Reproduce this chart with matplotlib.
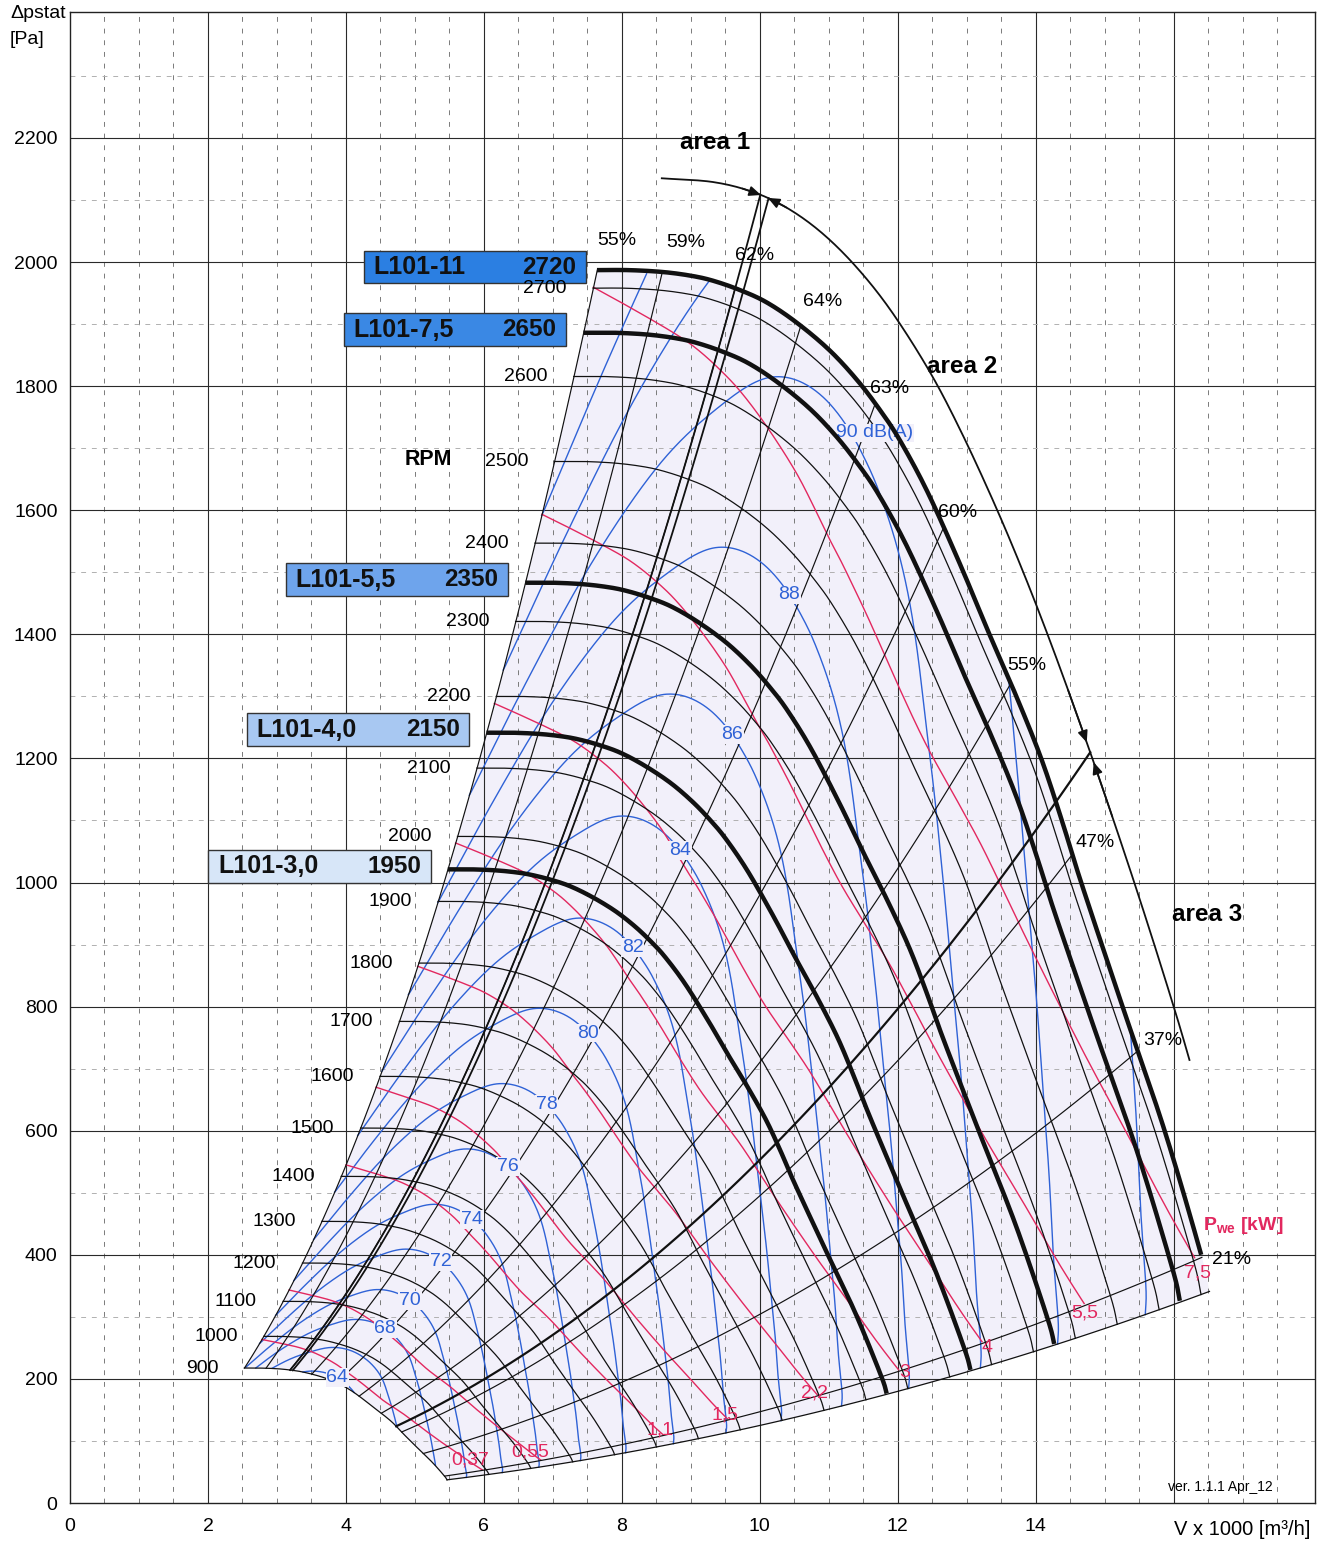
import numpy as np
import matplotlib
matplotlib.use("Agg")
import matplotlib.pyplot as plt
from matplotlib.patches import Rectangle, Polygon

plt.rcParams["font.family"] = ["Liberation Sans", "DejaVu Sans"]
plt.rcParams["mathtext.fontset"] = "custom"
plt.rcParams["mathtext.rm"] = "Liberation Sans"
plt.rcParams["mathtext.bf"] = "Liberation Sans:bold"

# ---------------------------------------------------------------- data
# fan characteristic at the reference speed (flow x1000 m3/h, static pressure Pa)
base_rpm = 2720
base_flow = [7.64, 8.10, 8.59, 9.00, 9.32, 9.71, 10.10, 10.54, 11.01, 11.41, 11.74,
             12.03, 12.43, 12.90, 13.33, 13.72, 14.08, 14.38, 14.66, 15.26, 15.87, 16.40, 16.52]
base_pa = [1987, 1987, 1984, 1978, 1970, 1955, 1935, 1902, 1858, 1810, 1762,
           1713, 1630, 1514, 1400, 1300, 1200, 1100, 1000, 800, 600, 400, 341]

# speed lines
rpm_values = [900, 1000, 1100, 1200, 1300, 1400, 1500, 1600, 1700, 1800, 1900,
              2000, 2100, 2200, 2300, 2400, 2500, 2600, 2700]

# motor limits
motor_names = ["L101-3,0", "L101-4,0", "L101-5,5", "L101-7,5", "L101-11"]
motor_rpm = [1950, 2150, 2350, 2650, 2720]
motor_box_colors = ["#d7e6f8", "#a8c8f2", "#6ea4ec", "#3a88e4", "#2b7fe2"]

# efficiency lines (system parabolas p = k * V^2)
eff_labels = ["55%", "59%", "62%", "64%", "63%", "60%", "55%", "47%", "37%", "21%"]
eff_k = [34.0, 26.9, 21.05, 16.9, 13.0, 9.8, 7.1, 4.95, 3.04, 1.47]

# operating area limits
area1_k = [20.5, 21.05]
area23_k = 5.53
outer_flow = [8.58, 9.32, 9.90, 10.40, 10.90, 11.40, 11.90, 12.45, 12.90, 13.40,
              13.85, 14.30, 14.80, 15.26, 15.66, 16.04, 16.23]
outer_pa = [2135, 2129, 2113, 2087, 2047, 1992, 1922, 1826, 1731, 1611,
            1492, 1362, 1207, 1057, 921, 786, 714]

# sound power: speed ratio giving 88 dB(A) along each system parabola
noise_ratio_k = [1.25, 2.0, 3.0, 4.5, 6.0, 8.0, 10.0, 12.5, 15.0, 17.5, 20.0, 23.0, 26.5, 30.0, 34.0]
noise_speed_88 = [0.736, 0.752, 0.775, 0.805, 0.829, 0.862, 0.887, 0.901, 0.905, 0.898,
                  0.877, 0.848, 0.805, 0.755, 0.698]
noise_levels = [64, 66, 68, 70, 72, 74, 76, 78, 80, 82, 84, 86, 88, 90, 92, 94]
noise_peak_pa = [212, 250, 295, 343, 408, 480, 569, 674, 795, 940, 1104, 1300, 1536,
                 1810, 2130, 2525]
noise_labels = ["64", "", "68", "70", "72", "74", "76", "78", "80", "82", "84", "86",
                "88", "90 dB(A)", "", ""]

# shaft power at reference speed along each system parabola (kW)
power_ratio_k = [1.47, 2.0, 3.0, 4.5, 6.0, 8.0, 10.0, 12.5, 15.0, 18.0, 22.0, 27.0, 34.0]
power_kw_ref = [7.62, 7.95, 8.35, 8.75, 9.05, 9.25, 9.25, 9.10, 8.80, 8.50, 8.20, 7.95, 7.66]
power_levels = [0.37, 0.55, 1.1, 1.5, 2.2, 3, 4, 5.5, 7.5]
power_labels = ["0,37", "0,55", "1,1", "1,5", "2,2", "3", "4", "5,5", "7,5"]

# ---------------------------------------------------------------- helpers
def catmull(x, y, n=16):
    P = np.column_stack([np.asarray(x, float), np.asarray(y, float)])
    P = np.vstack([2 * P[0] - P[1], P, 2 * P[-1] - P[-2]])
    out = []
    t = np.linspace(0, 1, n, endpoint=False)[:, None]
    for i in range(1, len(P) - 2):
        p0, p1, p2, p3 = P[i - 1], P[i], P[i + 1], P[i + 2]
        out.append(0.5 * (2 * p1 + (-p0 + p2) * t + (2 * p0 - 5 * p1 + 4 * p2 - p3) * t ** 2
                          + (-p0 + 3 * p1 - 3 * p2 + p3) * t ** 3))
    out.append(P[-2][None, :])
    A = np.vstack(out)
    return A[:, 0], A[:, 1]


def table_lookup(xs, ys, x):
    lx, ly = catmull(np.log(xs), ys, 24)
    return np.interp(np.log(x), lx, ly)


BV, BP = catmull(base_flow, base_pa, 24)
BR = BP / BV ** 2
s_min = rpm_values[0] / base_rpm


def flow_at_ratio(k):
    return np.interp(k, BR[::-1], BV[::-1])


AV, AP = catmull(outer_flow, outer_pa, 16)


def outer_crossing(k):
    f = k * AV ** 2 - AP
    v = np.interp(0.0, f, AV)
    return v, k * v ** 2


# ---------------------------------------------------------------- figure
W, H = 1326, 1542
fig = plt.figure(figsize=(W / 100, H / 100), dpi=100)
ax = fig.add_axes([70 / W, 39 / H, 1245 / W, 1491 / H])
ax.set_xlim(0, 18.05)
ax.set_ylim(0, 2403)

for sp in ax.spines.values():
    sp.set_linewidth(1.0)
    sp.set_color("#222222")

ax.set_xticks(range(0, 15, 2))
ax.set_yticks(range(0, 2201, 200))
ax.tick_params(axis="x", length=0, pad=11, labelsize=14)
ax.tick_params(axis="y", length=0, pad=9, labelsize=14)

# grid
for i in range(1, 36):
    x = i * 0.5
    if i % 4 == 0:
        ax.axvline(x, color="#2a2a2a", lw=0.8, zorder=1)
    else:
        ax.axvline(x, color="#7a7a7a", lw=0.7, ls=(0, (5, 7)), zorder=1)
for y in range(100, 2400, 100):
    if y % 200 == 0:
        ax.axhline(y, color="#2a2a2a", lw=0.8, zorder=1)
    else:
        ax.axhline(y, color="#b0b0b0", lw=0.7, ls=(0, (5, 6)), zorder=1)

# operating field background
sl = np.linspace(s_min, 1, 60)
left_v, left_p = sl * BV[0], sl ** 2 * BP[0]
right_v, right_p = sl[::-1] * BV[-1], sl[::-1] ** 2 * BP[-1]
poly = np.vstack([np.column_stack([left_v, left_p]),
                  np.column_stack([BV, BP]),
                  np.column_stack([right_v, right_p]),
                  np.column_stack([s_min * BV[::-1], s_min ** 2 * BP[::-1]])])
ax.add_patch(Polygon(poly, closed=True, facecolor="#f2f0fa", edgecolor="none", zorder=0.6))

# sound power lines
blue = "#2f62d6"
ref_peak = noise_peak_pa[noise_levels.index(88)]
s88_field = table_lookup(noise_ratio_k, noise_speed_88, BR)
for lev, peak, lab in zip(noise_levels, noise_peak_pa, noise_labels):
    f = np.sqrt(peak / ref_peak)
    s = f * s88_field
    ok = (s >= s_min) & (s <= 1.0)
    ax.plot(np.where(ok, s * BV, np.nan), np.where(ok, s ** 2 * BP, np.nan),
            color=blue, lw=1.0, zorder=2.5)
    if lab:
        kl = 13.45
        sv = f * table_lookup(noise_ratio_k, noise_speed_88, kl)
        v = sv * flow_at_ratio(kl)
        p = kl * v ** 2
        if lev == 90:
            ax.text(v - 0.22, p, lab, color=blue, fontsize=14, ha="left", va="center",
                    zorder=3.2, bbox=dict(facecolor="#f2f0fa", edgecolor="none", pad=0.5))
        else:
            ax.text(v, p, lab, color=blue, fontsize=14, ha="center", va="center",
                    zorder=3.2, bbox=dict(facecolor="#f2f0fa", edgecolor="none", pad=0.5))

# shaft power lines
red = "#e2285f"
mask_p = BR >= 1.47
p0_field = table_lookup(power_ratio_k, power_kw_ref, BR[mask_p])
power_label_pos = [(5.80, 69), (6.67, 82), (8.55, 118), (9.49, 142), (10.80, 177),
                   (12.10, 211), (13.30, 250), (14.71, 306), (16.35, 371)]
for P, lab, (lx, ly) in zip(power_levels, power_labels, power_label_pos):
    s = (P / p0_field) ** (1.0 / 3.0)
    ax.plot(s * BV[mask_p], s ** 2 * BP[mask_p], color=red, lw=1.0, zorder=2.7)
    ax.text(lx, ly, lab, color=red, fontsize=14, ha="center", va="center", zorder=5)

# efficiency parabolas
for k in eff_k:
    vh = flow_at_ratio(k)
    v = np.linspace(s_min * vh, vh, 80)
    ax.plot(v, k * v ** 2, color="#111111", lw=0.85, zorder=3)
# right limit of the field
v = np.linspace(s_min * BV[-1], BV[-1], 80)
ax.plot(v, BR[-1] * v ** 2, color="#111111", lw=0.9, zorder=3)

# speed lines
for n in rpm_values:
    s = n / base_rpm
    ax.plot(s * BV, s ** 2 * BP, color="#111111", lw=0.9, zorder=3)
    ax.text(s * BV[0] - 0.38, s ** 2 * BP[0], str(n), fontsize=14, ha="right",
            va="center", zorder=5)
ax.text(5.19, 1681, "RPM", fontsize=15.5, fontweight="bold", ha="center", va="center")

# motor limit curves and boxes
for name, n, col in zip(motor_names, motor_rpm, motor_box_colors):
    s = n / base_rpm
    m = BR >= (1.47 if n == base_rpm else 1.25)
    ax.plot(s * BV[m], s ** 2 * BP[m], color="#111111", lw=3.2, zorder=3.6,
            solid_capstyle="butt")
    v0, p0 = s * BV[0], s ** 2 * BP[0]
    right = v0 - (0.16 if n == base_rpm else 0.25)
    width = 3.22
    ax.add_patch(Rectangle((right - width, p0 + 5 - 26.5), width, 53, facecolor=col,
                           edgecolor="#333333", lw=1.0, zorder=4))
    ax.text(right - width + 0.14, p0 + 5, name, fontsize=18, fontweight="bold",
            ha="left", va="center", zorder=4.5, color="#111111")
    ax.text(right - 0.14, p0 + 5, str(n), fontsize=17.5, fontweight="bold",
            ha="right", va="center", zorder=4.5, color="#111111")

# operating areas
ax.plot(AV, AP, color="#111111", lw=1.3, zorder=3.4)
for k in area1_k:
    vt, pt = outer_crossing(k)
    v = np.linspace(s_min * flow_at_ratio(k), vt, 80)
    ax.plot(v, k * v ** 2, color="#111111", lw=1.3, zorder=3.4)
vt2, pt2 = outer_crossing(area23_k)
v = np.linspace(s_min * flow_at_ratio(area23_k), vt2, 80)
ax.plot(v, area23_k * v ** 2, color="#111111", lw=1.6, zorder=3.4)


def arrows_at(vc):
    for d in (-1, 1):
        vtip = vc + d * 0.05
        vtail = vc + d * 0.32
        ax.annotate("", xy=(vtip, np.interp(vtip, AV, AP)),
                    xytext=(vtail, np.interp(vtail, AV, AP)),
                    arrowprops=dict(arrowstyle="-|>,head_length=0.7,head_width=0.3",
                                    color="#111111", lw=1.2, shrinkA=0, shrinkB=0),
                    zorder=4)


arrows_at(outer_crossing(np.mean(area1_k))[0])
arrows_at(vt2)

ax.text(9.35, 2193, "area 1", fontsize=17.5, fontweight="bold", ha="center", va="center")
ax.text(12.93, 1831, "area 2", fontsize=17.5, fontweight="bold", ha="center", va="center")
ax.text(16.48, 948, "area 3", fontsize=17.5, fontweight="bold", ha="center", va="center")

# efficiency labels
eff_label_pos = [(7.93, 2034), (8.93, 2031), (9.93, 2010), (10.91, 1936), (11.88, 1797),
                 (12.87, 1597), (13.87, 1350), (14.86, 1064), (15.84, 745), (16.84, 392)]
for lab, (x, y) in zip(eff_labels, eff_label_pos):
    ax.text(x, y, lab, fontsize=14, ha="center", va="center", zorder=5)

ax.text(16.42, 448, r"$\mathbf{P_{we}}$ [kW]", color=red, fontsize=14, fontweight="bold",
        ha="left", va="center", zorder=5)
ax.text(16.68, 26, "ver. 1.1.1 Apr_12", fontsize=10, ha="center", va="center")

# axis captions
fig.text(10 / W, 1 - 14 / H, "\u0394pstat", fontsize=14, ha="left", va="center")
fig.text(10 / W, 1 - 40 / H, "[Pa]", fontsize=14, ha="left", va="center")
ax.text(16.0, -43, "V x 1000 [m\u00b3/h]", fontsize=14.5, ha="left", va="center",
        clip_on=False)

fig.savefig("out.png", dpi=100)
